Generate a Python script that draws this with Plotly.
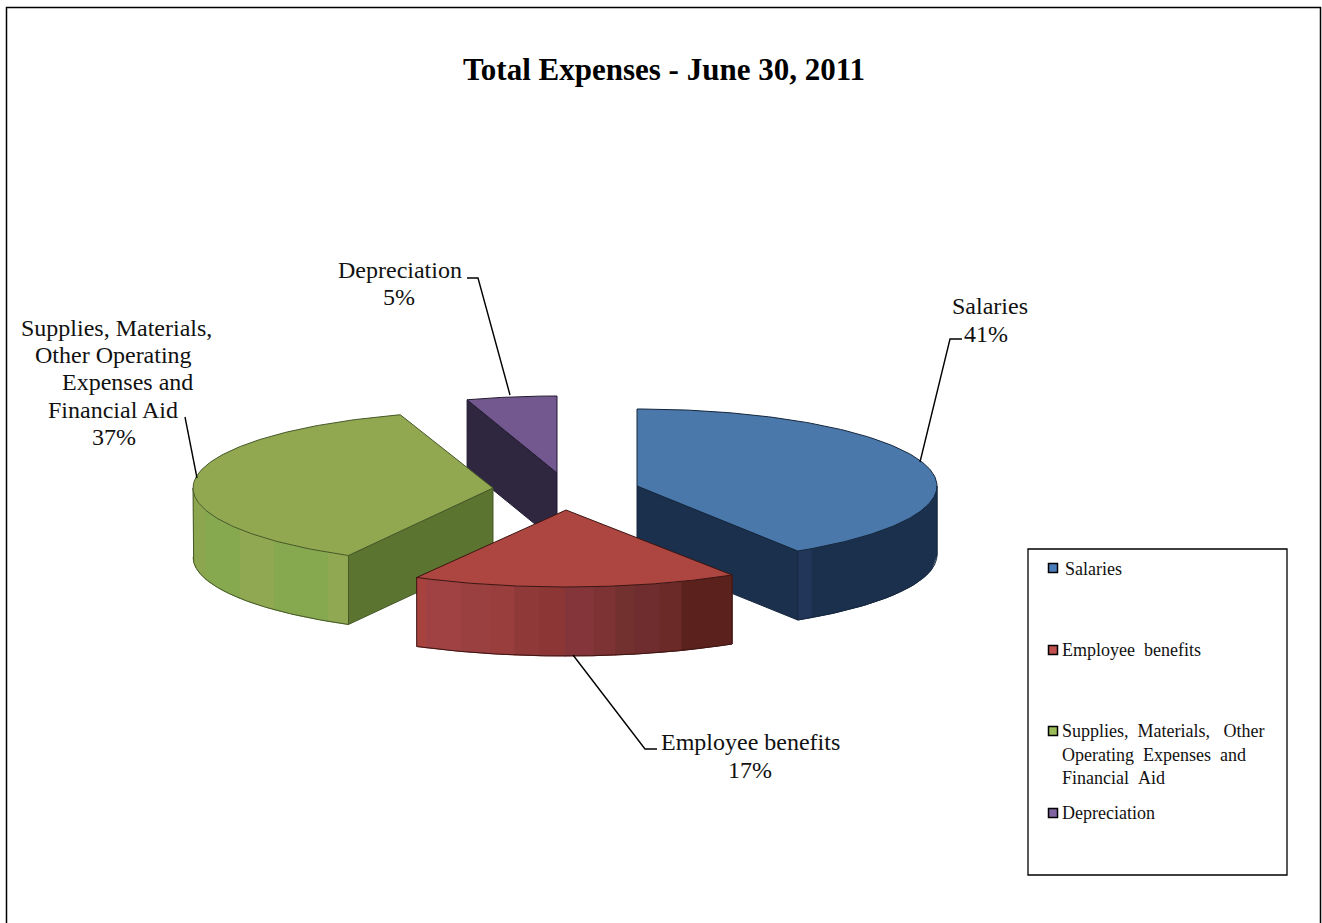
import numpy as np
import plotly.graph_objects as go

# Expense shares (percent) in drawing order around the pie, clockwise from 12 o'clock
categories = ["Salaries", "Employee benefits",
              "Supplies, Materials, Other Operating Expenses and Financial Aid",
              "Depreciation"]
shares = [41, 17, 37, 5]

top_colors = ["#4a78ab", "#ad4640", "#91a850", "#73578f"]
edge_colors = ["#14263c", "#3c1512", "#46582a", "#221b30"]
inner_colors = ["#1a304c", None, "#5b742f", "#2f2640"]
key_colors = ["#4a7ebb", "#c0504d", "#9bbb59", "#8064a2"]

# Exploded centre and horizontal radius of each slice, plus the shared tilt and height
centers_x = [637, 566, 493, 557]
centers_y = [486, 510, 488, 473]
radii_x = [300, 310, 300, 291]
RY, DEPTH = 77, 69

# Banded shading of the curved rim, left to right: (share of rim width, colour)
rim_bands = {
    0: [(0.10, "#22365a"), (0.90, "#1a304c")],
    1: [(0.03, "#a8423f"), (0.11, "#a04243"), (0.09, "#9a4040"), (0.08, "#993e3d"),
        (0.08, "#8f3a39"), (0.08, "#8c3636"), (0.09, "#83353a"), (0.07, "#7d3333"),
        (0.06, "#72302e"), (0.08, "#6f2d2f"), (0.07, "#6b2a28"), (0.16, "#5a211d")],
    2: [(0.08, "#8ba64e"), (0.22, "#86a94f"), (0.22, "#91a852"),
        (0.35, "#86a94f"), (0.13, "#91a852")],
}

# Drawing order: back slices first so the nearer ones overlap them
draw_order = [3, 2, 0, 1]

# Label lines: text, centre x, centre y
slice_label_lines = [
    ("Salaries", 990, 306), ("41%", 986, 334),
    ("Employee benefits", 750, 741.5), ("17%", 750, 769.5),
    ("Supplies, Materials,", 116.5, 327.5), ("Other Operating", 113.5, 354.5),
    ("Expenses and", 127.5, 381.5), ("Financial Aid", 112.5, 409.5), ("37%", 113.5, 436.5),
    ("Depreciation", 400, 269.5), ("5%", 399, 296.5),
]
leaders = [
    ([962, 950, 920], [339, 339, 462]),
    ([657, 645, 573], [749, 749, 655]),
    ([185, 197], [417, 478]),
    ([467, 478, 510], [278, 278, 395]),
]
legend_key_y = [568, 650, 731, 813]
legend_text_lines = [
    ("Salaries", 1063, 569),
    ("Employee  benefits", 1060, 650),
    ("Supplies,  Materials,   Other", 1060, 731),
    ("Operating  Expenses  and", 1060, 755),
    ("Financial  Aid", 1060, 778),
    ("Depreciation", 1060, 813),
]

fig = go.Figure()


def ellipse(i, theta_deg):
    t = np.radians(theta_deg)
    return centers_x[i] + radii_x[i] * np.sin(t), centers_y[i] - RY * np.cos(t)


def add_poly(x, y, fill, line=None, width=1):
    fig.add_trace(go.Scatter(
        x=list(x), y=list(y), mode="lines", fill="toself", fillcolor=fill,
        line=dict(color=line or fill, width=width), hoverinfo="skip", showlegend=False))


edges = np.cumsum([0] + shares) * 3.6

for i in draw_order:
    a0, a1 = edges[i], edges[i + 1]
    cx, cy = centers_x[i], centers_y[i]

    # Flat inner face seen through the explosion gap
    if i == 0:
        ex, ey = ellipse(i, a1)
        add_poly([cx, ex, ex, cx, cx], [cy, ey, ey + DEPTH, cy + DEPTH, cy],
                 inner_colors[i], edge_colors[i])
    elif i == 2:
        ex, ey = ellipse(i, a0)
        add_poly([cx, ex, ex, cx, cx], [cy, ey, ey + DEPTH, cy + DEPTH, cy],
                 inner_colors[i], edge_colors[i])
    elif i == 3:
        ex, ey = ellipse(i, a0)
        add_poly([ex, cx, cx, ex, ex], [ey, cy, cy + DEPTH, ey + DEPTH, ey],
                 inner_colors[i], edge_colors[i])

    # Curved rim: only the part facing the viewer (90 to 270 degrees)
    if i in rim_bands:
        v0, v1 = max(a0, 90), min(a1, 270)
        theta = np.linspace(v0, v1, 240)
        rx, ry = ellipse(i, theta)
        order = np.argsort(rx)
        rx, ry = rx[order], ry[order]
        pos = rx[0]
        width_total = rx[-1] - rx[0]
        for frac, color in rim_bands[i]:
            nxt = pos + frac * width_total
            xs = np.linspace(pos, min(nxt + 0.6, rx[-1]), 24)
            ys = np.interp(xs, rx, ry)
            add_poly(np.r_[xs, xs[::-1]], np.r_[ys, ys[::-1] + DEPTH], color)
            pos = nxt
        # Outline of the rim
        fig.add_trace(go.Scatter(
            x=np.r_[rx[0], rx, rx[-1]], y=np.r_[ry[0], ry + DEPTH, ry[-1]],
            mode="lines", line=dict(color=edge_colors[i], width=1),
            hoverinfo="skip", showlegend=False))

    # Top face of the slice
    theta = np.linspace(a0, a1, 160)
    tx, ty = ellipse(i, theta)
    add_poly(np.r_[cx, tx, cx], np.r_[cy, ty, cy], top_colors[i], edge_colors[i])

# Leader lines
for lx, ly in leaders:
    fig.add_trace(go.Scatter(x=lx, y=ly, mode="lines", line=dict(color="#000000", width=1.4),
                             hoverinfo="skip", showlegend=False))

# Legend keys
fig.add_trace(go.Scatter(
    x=[1053] * len(categories), y=legend_key_y, mode="markers", text=categories,
    marker=dict(symbol="square", size=9, color=key_colors, line=dict(color="#000000", width=1.5)),
    hoverinfo="text", showlegend=False))

annotations = [dict(x=664, y=69, text="<b>Total Expenses - June 30, 2011</b>", showarrow=False,
                    font=dict(family="Liberation Serif", size=31, color="#000000"))]
for text, x, y in slice_label_lines:
    annotations.append(dict(x=x, y=y, text=text, showarrow=False,
                            font=dict(family="Liberation Serif", size=24, color="#111111")))
for text, x, y in legend_text_lines:
    annotations.append(dict(x=x, y=y, text=text.replace("  ", "\u00a0\u00a0"), showarrow=False,
                            xanchor="left",
                            font=dict(family="Liberation Serif", size=18, color="#111111")))

shapes = [
    # Chart frame: open along the bottom
    dict(type="path", path="M 6.5 923 L 6.5 7.5 L 1320.5 7.5 L 1320.5 923",
         line=dict(color="#000000", width=1.5)),
    # Legend box
    dict(type="rect", x0=1028, y0=549, x1=1287, y1=875, line=dict(color="#000000", width=1.3)),
]

fig.update_layout(
    width=1322, height=923, margin=dict(l=0, r=0, t=0, b=0),
    paper_bgcolor="#ffffff", plot_bgcolor="#ffffff", showlegend=False,
    xaxis=dict(range=[0, 1322], visible=False, fixedrange=True),
    yaxis=dict(range=[923, 0], visible=False, fixedrange=True),
    annotations=annotations, shapes=shapes,
)
fig.write_html("out.html", config={"displayModeBar": False})
